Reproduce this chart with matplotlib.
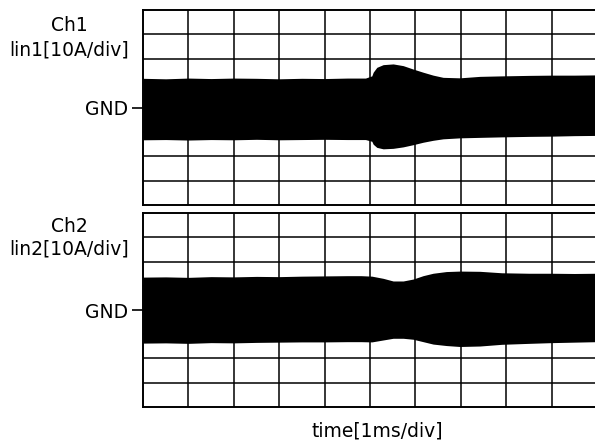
import numpy as np
import matplotlib.pyplot as plt

plt.rcParams['font.family'] = ['DejaVu Sans']

# envelope of the current traces, in divisions (time in ms = div)
t1 = [0, 0.5, 1, 1.5, 2, 2.5, 3, 3.5, 4, 4.5, 4.9, 5.04, 5.07, 5.15, 5.29, 5.51,
      5.73, 5.95, 6.17, 6.39, 6.61, 6.98, 7.42, 7.9, 8.5, 9, 9.5, 10]
up1 = [1.20, 1.18, 1.21, 1.19, 1.21, 1.20, 1.18, 1.20, 1.19, 1.21, 1.21, 1.30, 1.45,
       1.65, 1.76, 1.79, 1.72, 1.58, 1.45, 1.33, 1.24, 1.22, 1.28, 1.30, 1.32, 1.33,
       1.33, 1.34]
lo1 = [-1.32, -1.31, -1.33, -1.31, -1.32, -1.30, -1.32, -1.31, -1.30, -1.31, -1.31,
       -1.38, -1.50, -1.63, -1.69, -1.67, -1.61, -1.52, -1.42, -1.34, -1.28, -1.24,
       -1.22, -1.20, -1.18, -1.17, -1.15, -1.14]

t2 = [0, 0.5, 1, 1.5, 2, 2.5, 3, 3.5, 4, 4.5, 4.8, 5.04, 5.29, 5.51, 5.73, 5.95,
      6.17, 6.39, 6.68, 6.98, 7.42, 7.9, 8.5, 9, 9.5, 10]
up2 = [1.36, 1.37, 1.35, 1.38, 1.37, 1.39, 1.38, 1.40, 1.41, 1.42, 1.42, 1.40, 1.31,
       1.20, 1.20, 1.28, 1.42, 1.52, 1.59, 1.61, 1.60, 1.54, 1.52, 1.52, 1.51, 1.52]
lo2 = [-1.37, -1.36, -1.38, -1.35, -1.36, -1.34, -1.33, -1.32, -1.32, -1.31, -1.31,
       -1.32, -1.24, -1.17, -1.17, -1.21, -1.31, -1.41, -1.47, -1.51, -1.49, -1.42,
       -1.38, -1.35, -1.33, -1.31]

channels = [("Ch1", "lin1[10A/div]", t1, up1, lo1),
            ("Ch2", "lin2[10A/div]", t2, up2, lo2)]

W, H = 595, 448
fig = plt.figure(figsize=(W / 100, H / 100), dpi=100)

# panel boxes in pixels: left, top, bottom
boxes = [(143, 10, 205.2), (143, 213.3, 406.7)]
col_w = 45.4
label_y = [(25.5, 50), (226.5, 249)]

for (name, unit, t, up, lo), (x0, ytop, ybot), (ly1, ly2) in zip(channels, boxes, label_y):
    ax = fig.add_axes([x0 / W, 1 - ybot / H, 10 * col_w / W, (ybot - ytop) / H])
    ax.fill_between(t, lo, up, color='black', lw=0, zorder=3)
    ax.set_xlim(0, 10)
    ax.set_ylim(-4, 4)
    for x in range(1, 10):
        ax.axvline(x, color='black', lw=1.1, zorder=1)
    for y in range(-3, 4):
        ax.axhline(y, color='black', lw=1.1, zorder=1)
    for s in ax.spines.values():
        s.set_linewidth(1.4)
    ax.set_xticks([])
    ax.set_yticks([0])
    ax.set_yticklabels(['GND'], fontsize=13.5)
    ax.tick_params(axis='y', length=8, width=1.2, pad=3)
    fig.text(69 / W, 1 - ly1 / H, name, fontsize=13.5, ha='center', va='center')
    fig.text(69 / W, 1 - ly2 / H, unit, fontsize=13.5, ha='center', va='center')

fig.text(377 / W, 1 - 431 / H, "time[1ms/div]", fontsize=13.5, ha='center', va='center')

fig.savefig('out.png', dpi=100)
